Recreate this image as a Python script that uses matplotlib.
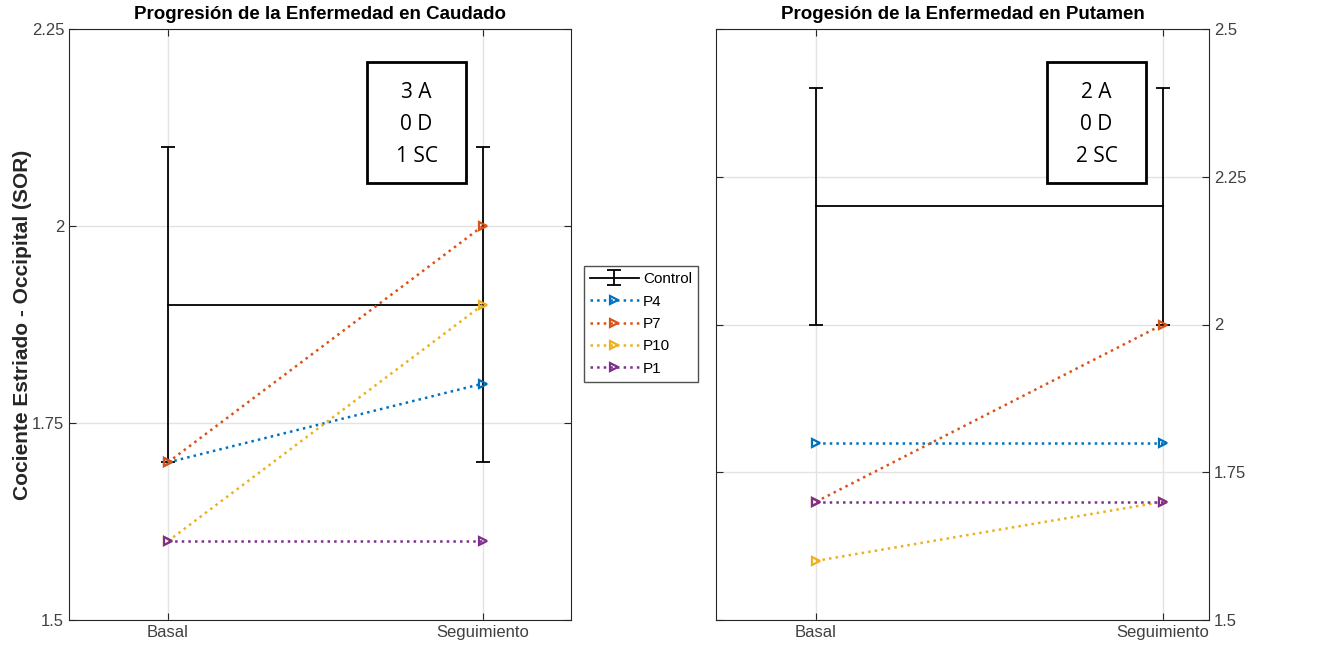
import matplotlib.pyplot as plt
from matplotlib.patches import Rectangle

# data
etapas = ['Basal', 'Seguimiento']
x = [1, 2]

cau_control = [1.9, 1.9]
cau_control_err = [0.2, 0.2]
cau_pacientes = {'P4': [1.7, 1.8], 'P7': [1.7, 2.0], 'P10': [1.6, 1.9], 'P1': [1.6, 1.6]}
cau_texto = ['3 A', '0 D', '1 SC']

put_control = [2.2, 2.2]
put_control_err = [0.2, 0.2]
put_pacientes = {'P4': [1.8, 1.8], 'P7': [1.7, 2.0], 'P10': [1.6, 1.7], 'P1': [1.7, 1.7]}
put_texto = ['2 A', '0 D', '2 SC']

colores = {'P4': '#0072BD', 'P7': '#D95319', 'P10': '#EDB120', 'P1': '#7E2F8E'}

plt.rcParams['font.family'] = ['Liberation Sans', 'DejaVu Sans']

fig = plt.figure(figsize=(13.19, 6.5), dpi=100)
ax1 = fig.add_axes([69 / 1319, 30 / 650, 502 / 1319, 591 / 650])
ax2 = fig.add_axes([716 / 1319, 30 / 650, 493 / 1319, 591 / 650])


def dibujar(ax, control, err, pacientes, titulo, ylim, yticks, xlim, texto, caja):
    ax.errorbar(x, control, yerr=err, color='black', lw=1.3, capsize=5,
                capthick=1.3, label='Control', zorder=3)
    for nombre, vals in pacientes.items():
        ax.plot(x, vals, ':', color=colores[nombre], lw=1.8, marker='>',
                markersize=6, markerfacecolor='none', markeredgewidth=1.6,
                label=nombre, zorder=4)
    ax.set_xlim(*xlim)
    ax.set_ylim(*ylim)
    ax.set_xticks(x)
    ax.set_xticklabels(etapas)
    ax.set_yticks(yticks)
    ax.set_yticklabels([f'{t:g}' for t in yticks])
    ax.grid(True, color='#e3e3e3', lw=1)
    ax.set_axisbelow(True)
    ax.tick_params(direction='in', top=True, right=True, length=5,
                   labelsize=12, colors='#262626', labelcolor='#404040')
    for s in ax.spines.values():
        s.set_color('#262626')
    ax.set_title(titulo, fontsize=13.5, fontweight='bold', pad=7)
    # caja de texto (posicion en pixeles de la figura)
    x0, y0, x1, y1 = caja
    rect = Rectangle((x0 / 1319, 1 - y1 / 650), (x1 - x0) / 1319, (y1 - y0) / 650,
                     transform=fig.transFigure, fc='white', ec='black', lw=2,
                     zorder=10)
    fig.patches.append(rect)
    cx = (x0 + x1) / 2 / 1319
    for i, linea in enumerate(texto):
        fig.text(cx, 1 - (y0 + 30 + 32 * i) / 650, linea, ha='center',
                 va='center', fontsize=15, family=['Open Sans', 'DejaVu Sans'],
                 zorder=11)


dibujar(ax1, cau_control, cau_control_err, cau_pacientes,
        'Progresión de la Enfermedad en Caudado', (1.5, 2.25),
        [1.5, 1.75, 2, 2.25], (0.686, 2.28), cau_texto, (367, 62, 466, 183))
dibujar(ax2, put_control, put_control_err, put_pacientes,
        'Progesión de la Enfermedad en Putamen', (1.5, 2.5),
        [1.5, 1.75, 2, 2.25, 2.5], (0.712, 2.133), put_texto, (1047, 62, 1146, 183))

ax2.yaxis.tick_right()
ax2.tick_params(left=True, labelleft=False, labelright=True)
ax1.set_ylabel('Cociente Estriado - Occipital (SOR)', fontsize=15,
               fontweight='bold', color='#262626', labelpad=0)

h, l = ax1.get_legend_handles_labels()
orden = [l.index('Control')] + [i for i in range(len(l)) if l[i] != 'Control']
fig.legend([h[i] for i in orden], [l[i] for i in orden], loc='center',
           bbox_to_anchor=(641 / 1319, 1 - 324 / 650),
           fontsize=11, frameon=True, fancybox=False, edgecolor='#262626',
           handlelength=3.2, borderpad=0.4, labelspacing=0.55, handletextpad=0.3,
           borderaxespad=0)

plt.savefig('out.png', dpi=100)
